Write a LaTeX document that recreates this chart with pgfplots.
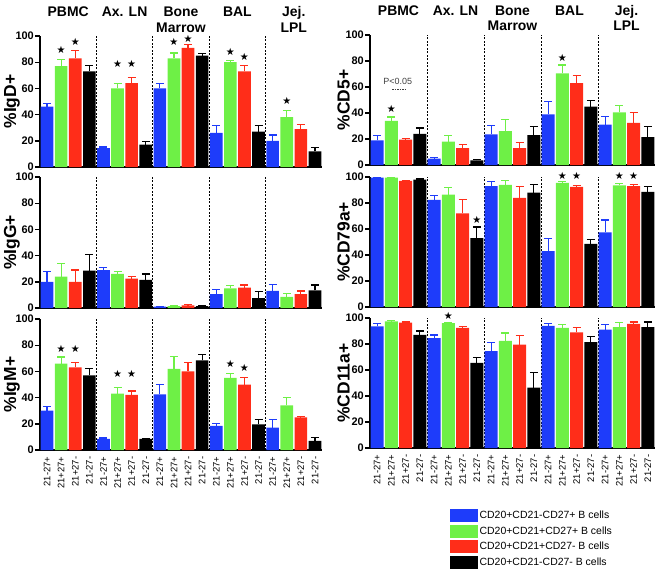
\documentclass[border=0pt]{standalone}
\usepackage{pgfplots}
\pgfplotsset{compat=1.18}
\usepackage{fontspec}
\setmainfont{Liberation Sans}
\newfontfamily\symfont{DejaVu Sans}
\definecolor{cB}{RGB}{30,60,250}
\definecolor{cG}{RGB}{110,240,70}
\definecolor{cR}{RGB}{255,45,25}
\definecolor{cK}{RGB}{0,0,0}
\tikzset{ttl/.style={font=\bfseries\fontsize{14}{15}\selectfont, anchor=base}}
\pgfplotsset{
 panel/.style={scale only axis, xmin=-0.5, xmax=19.5, ymin=0, ymax=100,
   axis x line*=bottom, axis y line*=left, axis line style={line width=1.8bp,-},
   ytick={0,20,...,100}, tick align=outside, major tick length=5bp,
   ytick style={line width=1.4bp, black}, xtick=\empty,
   yticklabel style={font=\bfseries\fontsize{11}{12}\selectfont, inner sep=1bp},
   /pgf/number format/assume math mode=true,
   ylabel style={font=\bfseries\fontsize{17.5}{18}\selectfont, anchor=center},
   extra x ticks={3.5,7.5,11.5,15.5}, extra x tick labels={},
   extra x tick style={grid=major, major grid style={black, line width=0.8bp, dash pattern=on 2bp off 1.5bp}, major tick length=0pt},
   clip=false},
 sqleg/.style={legend image code/.code={\fill[##1] (0bp,-6.5bp) rectangle (28bp,6.5bp);}},
 bar/.style={ybar, bar width=0.9, bar shift=0pt, fill=#1, draw=none, sqleg,
   error bars/y dir=plus, error bars/y explicit,
   error bars/error bar style={color=#1, line width=1.2bp},
   error bars/error mark options={rotate=90, mark size=4bp, line width=1.2bp, color=#1}},
 stars/.style={draw=none, mark=none, forget plot, nodes near coords={{\symfont ★}},
   every node near coord/.style={anchor=center, inner sep=0pt, font=\fontsize{10}{10}\selectfont}},
 botx/.style={xtick={0,...,19},
   xticklabels={21-27+,21+27+,21+27-,21-27-,21-27+,21+27+,21+27-,21-27-,21-27+,21+27+,21+27-,21-27-,21-27+,21+27+,21+27-,21-27-,21-27+,21+27+,21+27-,21-27-},
   x tick label style={rotate=90, anchor=east, font=\fontsize{9.5}{10}\selectfont, inner sep=1.5bp},
   xtick style={draw=none}},
}
\begin{document}
\begin{tikzpicture}
\useasboundingbox (0,0) rectangle (660bp,-575bp);
% ---------------- IgD
\begin{axis}[panel, width=282bp, height=131bp, at={(40bp,-167bp)}, anchor=south west,
  ylabel={\%IgD+}, ylabel style={at={(axis description cs:-0.1,0.5)}}]
\addplot[bar=cB] coordinates {(0,46)+-(0,2.5) (4,14.5)+-(0,0.7) (8,60)+-(0,4) (12,26)+-(0,5.5) (16,20)+-(0,4.5)};
\addplot[bar=cG] coordinates {(1,77)+-(0,5) (5,60)+-(0,4) (9,83)+-(0,4) (13,80)+-(0,1) (17,38)+-(0,5)};
\addplot[bar=cR] coordinates {(2,83)+-(0,6) (6,64)+-(0,4.5) (10,91)+-(0,2.5) (14,73)+-(0,4.5) (18,29)+-(0,3.5)};
\addplot[bar=cK] coordinates {(3,73)+-(0,4.5) (7,17)+-(0,2.5) (11,85)+-(0,1.5) (15,27)+-(0,4.5) (19,12)+-(0,3)};
\addplot[stars] coordinates {(1,89) (2,95.5) (5,79) (6,79) (9,95.5) (10,98) (13,88) (14,84) (17,50.5)};
\node[ttl] at (axis cs:1.5,114.9) {PBMC};
\node[ttl] at (axis cs:5.5,114.9) {Ax. LN};
\node[ttl] at (axis cs:9.5,114.9) {Bone};
\node[ttl] at (axis cs:9.5,103) {Marrow};
\node[ttl] at (axis cs:13.5,114.9) {BAL};
\node[ttl] at (axis cs:17.5,114.9) {Jej.};
\node[ttl] at (axis cs:17.5,103) {LPL};
\end{axis}
% ---------------- IgG
\begin{axis}[panel, width=282bp, height=131bp, at={(40bp,-308bp)}, anchor=south west,
  ylabel={\%IgG+}, ylabel style={at={(axis description cs:-0.1,0.5)}}]
\addplot[bar=cB] coordinates {(0,20)+-(0,8) (4,29)+-(0,2) (8,1)+-(0,0.3) (12,10.5)+-(0,3.5) (16,13)+-(0,5)};
\addplot[bar=cG] coordinates {(1,24)+-(0,10) (5,26)+-(0,2) (9,1.5)+-(0,0.3) (13,15)+-(0,2) (17,8.5)+-(0,2.5)};
\addplot[bar=cR] coordinates {(2,20)+-(0,9) (6,22.5)+-(0,1.5) (10,2)+-(0,0.5) (14,15.5)+-(0,2) (18,10.5)+-(0,2.5)};
\addplot[bar=cK] coordinates {(3,28.5)+-(0,12.5) (7,21.5)+-(0,4.5) (11,1.5)+-(0,0.5) (15,7.5)+-(0,5) (19,13.5)+-(0,4)};
\end{axis}
% ---------------- IgM
\begin{axis}[panel, botx, width=282bp, height=131bp, at={(40bp,-450bp)}, anchor=south west,
  ylabel={\%IgM+}, ylabel style={at={(axis description cs:-0.1,0.5)}}]
\addplot[bar=cB] coordinates {(0,30)+-(0,3.5) (4,8.5)+-(0,0.7) (8,42.5)+-(0,7.5) (12,18.5)+-(0,1.5) (16,17)+-(0,6.5)};
\addplot[bar=cG] coordinates {(1,66)+-(0,5) (5,43)+-(0,4.5) (9,62)+-(0,9.5) (13,55)+-(0,3.5) (17,34)+-(0,6)};
\addplot[bar=cR] coordinates {(2,63)+-(0,4) (6,42)+-(0,3) (10,60)+-(0,7) (14,50)+-(0,5.5) (18,25)+-(0,0.5)};
\addplot[bar=cK] coordinates {(3,57)+-(0,5) (7,8.5)+-(0,0.5) (11,68.5)+-(0,4.5) (15,19.5)+-(0,4) (19,7)+-(0,2.5)};
\addplot[stars] coordinates {(1,77) (2,77) (5,58) (6,58) (13,66) (14,63)};
\end{axis}
% ---------------- CD5
\begin{axis}[panel, width=285bp, height=130bp, at={(370bp,-165bp)}, anchor=south west,
  ylabel={\%CD5+}, ylabel style={at={(axis description cs:-0.093,0.5)}}]
\addplot[bar=cB] coordinates {(0,19)+-(0,4) (4,5)+-(0,0.7) (8,23.5)+-(0,7) (12,39)+-(0,10) (16,31)+-(0,6.5)};
\addplot[bar=cG] coordinates {(1,34)+-(0,3) (5,18)+-(0,5) (9,26)+-(0,9) (13,70.5)+-(0,6.5) (17,40.5)+-(0,5.5)};
\addplot[bar=cR] coordinates {(2,19.5)+-(0,1) (6,13)+-(0,2.5) (10,13)+-(0,4.5) (14,63)+-(0,6) (18,32.5)+-(0,8)};
\addplot[bar=cK] coordinates {(3,24)+-(0,4.5) (7,3.5)+-(0,1) (11,23)+-(0,6.5) (15,45)+-(0,4.5) (19,21.5)+-(0,8)};
\addplot[stars] coordinates {(1,43) (13,82.5)};
\node[font=\fontsize{9}{10}\selectfont, text=black!75] at (axis cs:1.45,64) {P<0.05};
\draw[black!75, line width=0.7bp, dash pattern=on 1.5bp off 1bp] (axis cs:1.05,58.5) -- (axis cs:1.95,58.5);
\node[ttl] at (axis cs:1.5,115) {PBMC};
\node[ttl] at (axis cs:5.5,115) {Ax. LN};
\node[ttl] at (axis cs:9.5,115) {Bone};
\node[ttl] at (axis cs:9.5,103.5) {Marrow};
\node[ttl] at (axis cs:13.5,115) {BAL};
\node[ttl] at (axis cs:17.5,115) {Jej.};
\node[ttl] at (axis cs:17.5,103.5) {LPL};
\end{axis}
% ---------------- CD79a
\begin{axis}[panel, width=285bp, height=130bp, at={(370bp,-307bp)}, anchor=south west,
  ylabel={\%CD79a+}, ylabel style={at={(axis description cs:-0.093,0.5)}}]
\addplot[bar=cB] coordinates {(0,99.5)+-(0,0.3) (4,82.5)+-(0,3.5) (8,93)+-(0,3.5) (12,43)+-(0,9.5) (16,57.5)+-(0,9.5)};
\addplot[bar=cG] coordinates {(1,99.5)+-(0,0.3) (5,86.5)+-(0,5.5) (9,94)+-(0,3.5) (13,95.5)+-(0,1) (17,93.5)+-(0,1.5)};
\addplot[bar=cR] coordinates {(2,97)+-(0,0.5) (6,72)+-(0,11) (10,84)+-(0,8.5) (14,92.5)+-(0,1) (18,93)+-(0,1.5)};
\addplot[bar=cK] coordinates {(3,98)+-(0,0.5) (7,53)+-(0,8.5) (11,88)+-(0,6.5) (15,48.5)+-(0,3.5) (19,88.5)+-(0,4.5)};
\addplot[stars] coordinates {(7,67) (13,101) (14,101) (17,100.5) (18,100.5)};
\end{axis}
% ---------------- CD11a
\begin{axis}[panel, botx, width=285bp, height=130bp, at={(370bp,-448bp)}, anchor=south west,
  ylabel={\%CD11a+}, ylabel style={at={(axis description cs:-0.093,0.5)}},
  legend style={draw=none, fill=none, at={(axis description cs:0.27,-0.455)}, anchor=north west,
    font=\fontsize{10.5}{12}\selectfont, row sep=2.5bp, nodes={inner sep=1.5bp},
    /tikz/every even column/.append style={column sep=3bp}},
  legend cell align=left]
\addplot[bar=cB] coordinates {(0,93.5)+-(0,2.5) (4,84.5)+-(0,2.5) (8,74.5)+-(0,6.5) (12,94)+-(0,2) (16,91)+-(0,4)};
\addlegendentry{CD20+CD21-CD27+ B cells}
\addplot[bar=cG] coordinates {(1,97.5)+-(0,0.5) (5,96)+-(0,0.7) (9,82.5)+-(0,6) (13,92.5)+-(0,2.5) (17,93)+-(0,3.5)};
\addlegendentry{CD20+CD21+CD27+ B cells}
\addplot[bar=cR] coordinates {(2,96.5)+-(0,0.5) (6,92.5)+-(0,1.2) (10,79.5)+-(0,7) (14,89)+-(0,3.5) (18,95.5)+-(0,1.5)};
\addlegendentry{CD20+CD21+CD27- B cells}
\addplot[bar=cK] coordinates {(3,87)+-(0,3) (7,65.5)+-(0,4) (11,46.5)+-(0,11.5) (15,81.5)+-(0,4.5) (19,93)+-(0,4)};
\addlegendentry{CD20+CD21-CD27- B cells}
\addplot[stars] coordinates {(5,101.5)};
\end{axis}
\end{tikzpicture}
\end{document}
